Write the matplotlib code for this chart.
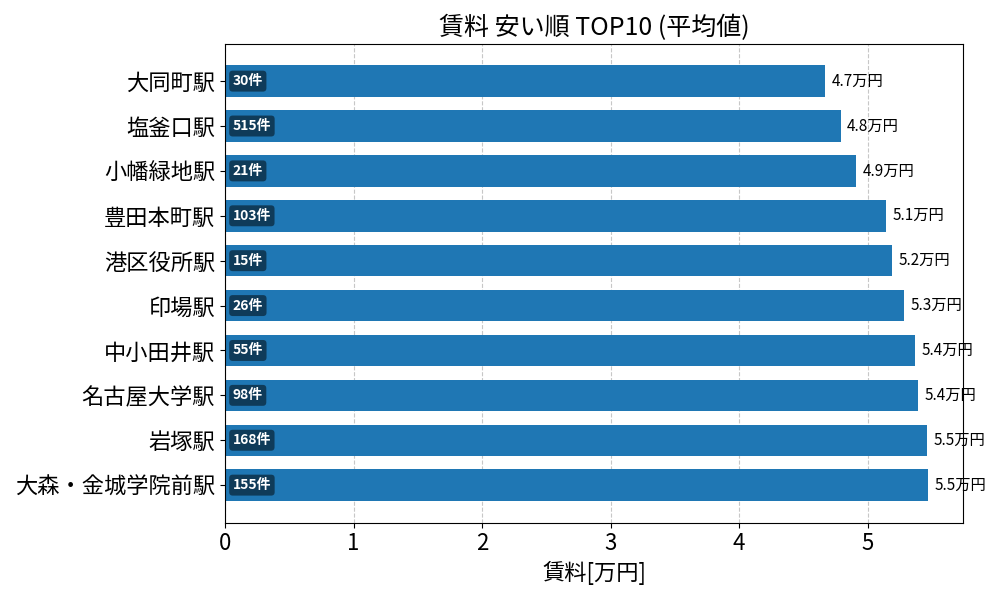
import matplotlib
matplotlib.use("Agg")
import matplotlib.pyplot as plt

plt.rcParams['font.family'] = ['Noto Sans CJK JP', 'DejaVu Sans']

# data (top to bottom as shown)
stations = ['大同町駅', '塩釜口駅', '小幡緑地駅', '豊田本町駅', '港区役所駅',
            '印場駅', '中小田井駅', '名古屋大学駅', '岩塚駅', '大森・金城学院前駅']
rents = [4.67, 4.79, 4.91, 5.14, 5.19, 5.28, 5.37, 5.39, 5.46, 5.47]
counts = [30, 515, 21, 103, 15, 26, 55, 98, 168, 155]

fig, ax = plt.subplots(figsize=(10, 6), dpi=100)

ypos = list(range(len(stations)))
ax.barh(ypos, rents, height=0.7, color='#1f77b4')
ax.set_yticks(ypos)
ax.set_yticklabels(stations, fontsize=16)
ax.invert_yaxis()

for y, v, n in zip(ypos, rents, counts):
    ax.text(v + 0.05, y, f'{v:.1f}万円', va='center', ha='left', fontsize=11)
    ax.text(0.06, y, f'{n}件', va='center', ha='left', fontsize=10,
            fontweight='bold', color='white',
            bbox=dict(boxstyle='round,pad=0.25', facecolor='black',
                      edgecolor='none', alpha=0.5))

ax.set_xlabel('賃料[万円]', fontsize=16)
ax.set_title('賃料 安い順 TOP10 (平均値)', fontsize=18)
ax.tick_params(axis='x', labelsize=16)
ax.grid(axis='x', linestyle='--', alpha=0.7)
ax.set_axisbelow(True)

plt.tight_layout()
plt.savefig('out.png')
